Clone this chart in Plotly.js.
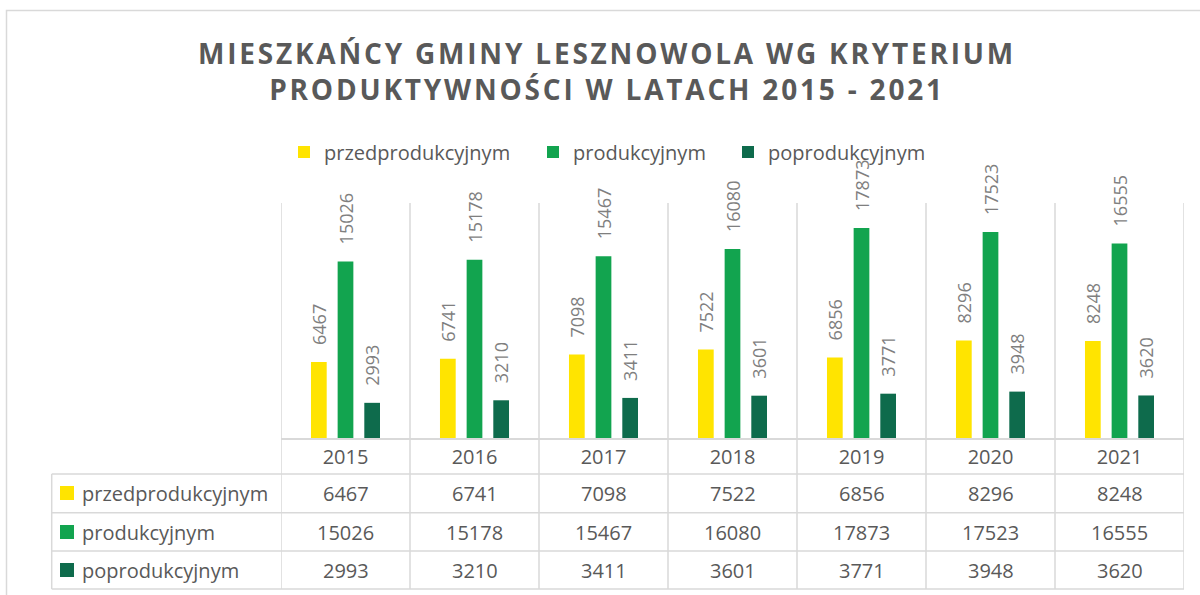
<!DOCTYPE html>
<html>
<head>
<meta charset="utf-8">
<script src="https://cdn.plot.ly/plotly-3.0.1.min.js"></script>
<style>
  html, body { margin: 0; padding: 0; background: #ffffff; }
  #chart { width: 1200px; height: 595px; }
  .gtitle { letter-spacing: 2.8px; }
</style>
</head>
<body>
<div id="chart"></div>
<script>
// ---- data ----
const years = ['2015', '2016', '2017', '2018', '2019', '2020', '2021'];
const seriesNames = ['przedprodukcyjnym', 'produkcyjnym', 'poprodukcyjnym'];
const przedprodukcyjnym = [6467, 6741, 7098, 7522, 6856, 8296, 8248];
const produkcyjnym = [15026, 15178, 15467, 16080, 17873, 17523, 16555];
const poprodukcyjnym = [2993, 3210, 3411, 3601, 3771, 3948, 3620];
const seriesColors = ['#FFE400', '#12A44F', '#0E6B4C'];
const titleText = 'MIESZKAŃCY GMINY LESZNOWOLA WG KRYTERIUM<br>PRODUKTYWNOŚCI W LATACH 2015 - 2021';

const seriesValues = [przedprodukcyjnym, produkcyjnym, poprodukcyjnym];

// ---- layout geometry ----
const W = 1200, H = 595, L = 281, R = 16, T = 203, B = 157;
const plotW = W - L - R, plotH = H - T - B;
const px2x = px => (px - L) / plotW;
const py2y = py => (H - B - py) / plotH;

const textColor = '#595959';
const lineColor = '#D9D9D9';
const fontFamily = '"Open Sans", "DejaVu Sans", sans-serif';

const tableLeft = 51.7;
const rowLines = [474, 512.7, 551, 589];
const rowCenters = [493, 532, 570];
const legendLefts = [284, 533, 728];

const traces = seriesNames.map((name, i) => ({
  type: 'bar',
  name: name,
  x: years,
  y: seriesValues[i],
  marker: { color: seriesColors[i], line: { width: 0 } },
  texttemplate: '\u00a0\u00a0\u00a0%{y:d}',
  textposition: 'outside',
  textangle: -90,
  constraintext: 'none',
  cliponaxis: false,
  textfont: { family: fontFamily, size: 18, color: '#7F7F7F' },
  hoverinfo: 'skip',
  legend: i === 0 ? 'legend' : 'legend' + (i + 1)
}));

const shapes = [];
// outer chart border
shapes.push({ type: 'rect', xref: 'paper', yref: 'paper',
  x0: px2x(6.5), x1: px2x(1215), y0: py2y(610), y1: py2y(10.5),
  line: { color: lineColor, width: 1.5 }, fillcolor: 'rgba(0,0,0,0)', layer: 'below' });
// column separators through plot and table
for (let k = 0; k <= years.length; k++) {
  shapes.push({ type: 'line', xref: 'x', yref: 'paper',
    x0: k - 0.5, x1: k - 0.5, y0: py2y(589), y1: 1,
    line: { color: lineColor, width: 1.5 }, layer: 'below' });
}
// table row lines
rowLines.forEach(py => {
  shapes.push({ type: 'line', xref: 'paper', yref: 'paper',
    x0: px2x(tableLeft), x1: 1, y0: py2y(py), y1: py2y(py),
    line: { color: lineColor, width: 1.5 }, layer: 'below' });
});
// table left border
shapes.push({ type: 'line', xref: 'paper', yref: 'paper',
  x0: px2x(tableLeft), x1: px2x(tableLeft), y0: py2y(rowLines[0]), y1: py2y(rowLines[3]),
  line: { color: lineColor, width: 1.5 }, layer: 'below' });
// row colour keys
rowCenters.forEach((cy, i) => {
  shapes.push({ type: 'rect', xref: 'paper', yref: 'paper',
    x0: px2x(60), x1: px2x(74), y0: py2y(cy + 7), y1: py2y(cy - 7),
    line: { width: 0 }, fillcolor: seriesColors[i] });
});

const annotations = [];
seriesNames.forEach((name, i) => {
  annotations.push({ xref: 'paper', yref: 'paper', x: px2x(80), y: py2y(rowCenters[i]),
    xanchor: 'left', yanchor: 'middle', showarrow: false, text: name,
    font: { family: fontFamily, size: 20, color: textColor } });
  years.forEach((yr, j) => {
    annotations.push({ xref: 'x', yref: 'paper', x: j, y: py2y(rowCenters[i]),
      xanchor: 'center', yanchor: 'middle', showarrow: false, text: String(seriesValues[i][j]),
      font: { family: fontFamily, size: 20, color: textColor } });
  });
});

const legendBase = {
  orientation: 'h', xref: 'paper', yref: 'paper', yanchor: 'middle', xanchor: 'left',
  y: py2y(152), bgcolor: 'rgba(0,0,0,0)', borderwidth: 0,
  font: { family: fontFamily, size: 20, color: textColor }
};

const layout = {
  width: W, height: H,
  margin: { l: L, r: R, t: T, b: B, pad: 0 },
  paper_bgcolor: '#ffffff', plot_bgcolor: '#ffffff',
  font: { family: fontFamily, color: textColor },
  title: {
    text: titleText,
    font: { family: fontFamily, size: 28, color: textColor, weight: 700 },
    xref: 'container', yref: 'container', x: 607 / W, xanchor: 'center',
    y: 1 - 64 / H, yanchor: 'top'
  },
  barmode: 'group',
  bargap: 0.38,
  bargroupgap: 0.41,
  xaxis: {
    type: 'category', range: [-0.5, years.length - 0.5],
    showline: true, linecolor: lineColor, linewidth: 1.5,
    showgrid: false, zeroline: false, ticks: '',
    tickfont: { family: fontFamily, size: 20, color: textColor },
    fixedrange: true
  },
  yaxis: {
    range: [0, 20000], visible: false, showgrid: false, zeroline: false, fixedrange: true
  },
  showlegend: true,
  legend: Object.assign({}, legendBase, { x: px2x(legendLefts[0]) }),
  legend2: Object.assign({}, legendBase, { x: px2x(legendLefts[1]) }),
  legend3: Object.assign({}, legendBase, { x: px2x(legendLefts[2]) }),
  shapes: shapes,
  annotations: annotations
};

Plotly.newPlot('chart', traces, layout, { displayModeBar: false, staticPlot: true });
</script>
</body>
</html>
